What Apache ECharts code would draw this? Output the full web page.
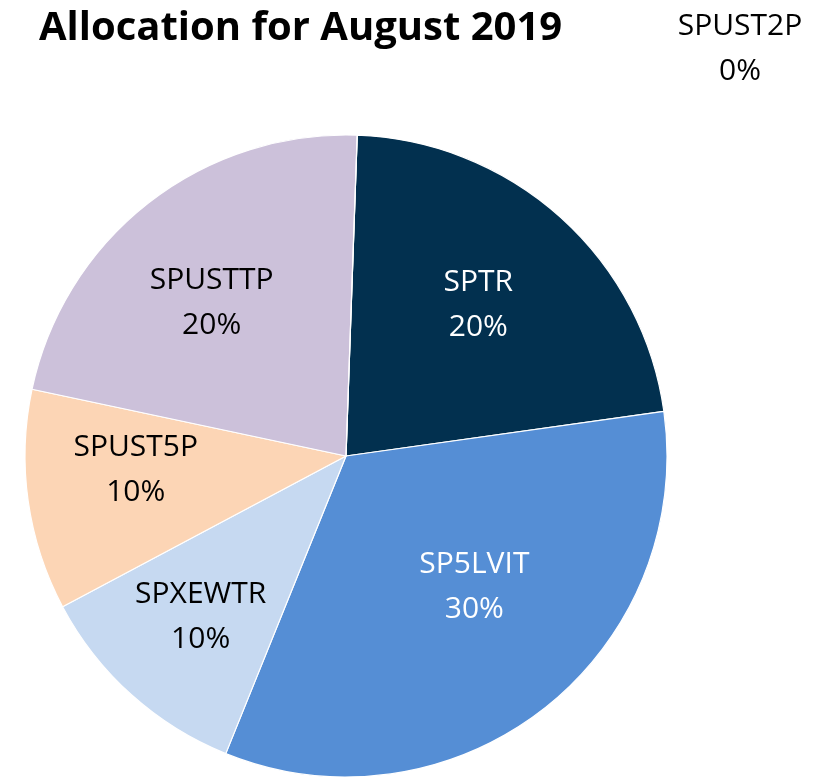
<!DOCTYPE html>
<html>
<head>
<meta charset="utf-8">
<script src="https://cdn.jsdelivr.net/npm/echarts@6/dist/echarts.min.js"></script>
<style>
  html, body { margin: 0; padding: 0; background: #fff; }
  #chart { width: 825px; height: 780px; }
</style>
</head>
<body>
<div id="chart"></div>
<script>
const names = ['SPTR', 'SP5LVIT', 'SPXEWTR', 'SPUST5P', 'SPUSTTP', 'SPUST2P'];
const weights = [20, 30, 10, 10, 20, 0];
const colors = ['#02304f', '#558ed5', '#c6d9f1', '#fcd5b5', '#ccc1da', '#ffffff'];
const textColors = ['#ffffff', '#ffffff', '#000000', '#000000', '#000000', '#000000'];

const font = 'Open Sans';
const center = [346, 456];
const radius = 321;

// small nudges so labels sit where Excel put them
const labelNudge = [[-5, 1], [2, -31], [-8, 8], [-7, -15], [-8, 9]];

const pieData = names.map((n, i) => ({
  name: n,
  value: weights[i],
  itemStyle: { color: colors[i] },
}));

const labelData = names.map((n, i) => ({
  name: n,
  value: weights[i],
  label: { color: textColors[i] },
}));

let chart = echarts.init(document.getElementById('chart'), null, { renderer: 'canvas' });
chart.setOption({
  animation: false,
  title: {
    text: 'Allocation for August 2019',
    left: 34,
    top: 4,
    textStyle: { fontFamily: font, fontWeight: 'bold', fontSize: 40, color: '#000' },
  },
  series: [
    {
      type: 'pie',
      center: center,
      radius: [0, radius],
      startAngle: 88,
      clockwise: true,
      silent: true,
      label: { show: false },
      labelLine: { show: false },
      itemStyle: { borderColor: '#ffffff', borderWidth: 1.2 },
      data: pieData,
    },
    {
      // transparent copy, only carries the labels further out
      type: 'pie',
      center: center,
      radius: [radius * 0.26, radius],
      startAngle: 88,
      clockwise: true,
      silent: true,
      itemStyle: { color: 'rgba(0,0,0,0)' },
      labelLine: { show: false },
      label: {
        show: true,
        position: 'inside',
        fontFamily: font,
        fontSize: 30,
        lineHeight: 45,
        formatter: p => p.name + '\n' + p.value + '%',
      },
      labelLayout: p => {
        if (p.dataIndex === 5) {
          return { x: 740, y: 49, align: 'center', verticalAlign: 'middle' };
        }
        let n = labelNudge[p.dataIndex];
        return { dx: n[0], dy: n[1] };
      },
      data: labelData,
    },
  ],
});
</script>
</body>
</html>
